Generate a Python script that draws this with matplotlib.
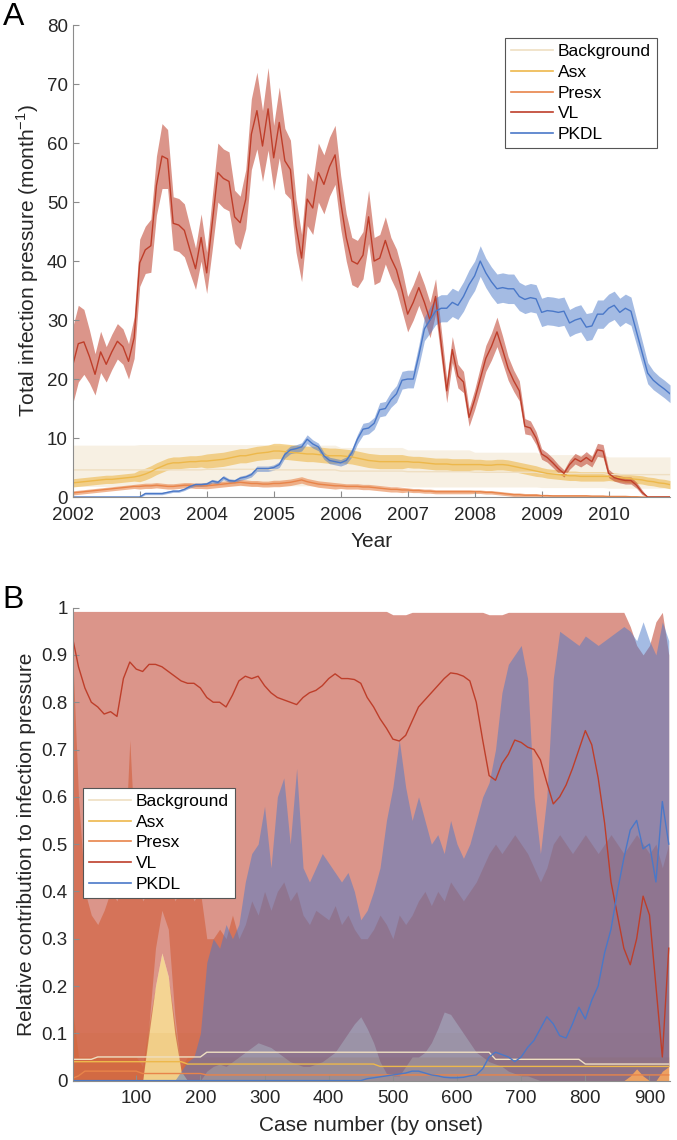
import numpy as np
import matplotlib
matplotlib.use("Agg")
import matplotlib.pyplot as plt

plt.rcParams['font.family'] = ['Liberation Sans', 'DejaVu Sans']

names = ['Background', 'Asx', 'Presx', 'VL', 'PKDL']
colors = {'Background': '#efdfc2', 'Asx': '#edb84b', 'Presx': '#e8844a',
          'VL': '#be3e2a', 'PKDL': '#4a78c8'}

# ---------------- panel A: monthly, Jan 2002 - Dec 2010 ----------------
years = [2002, 2003, 2004, 2005, 2006, 2007, 2008, 2009, 2010]

vl_a = [
    22.3, 26.0, 26.3, 23.8, 20.8, 24.6, 22.5, 24.6, 26.4, 25.5, 23.0, 27.0,
    39.7, 41.9, 42.6, 52.8, 57.8, 57.3, 46.4, 46.1, 45.2, 41.9, 38.7, 44.0,
    38.0, 46.5, 55.0, 54.0, 53.5, 47.5, 46.5, 50.5, 61.5, 65.5, 59.5, 65.8,
    57.5, 63.5, 57.0, 55.5, 46.0, 40.5, 50.5, 49.0, 55.0, 53.0, 56.0, 58.0,
    50.0, 44.0, 40.0, 39.5, 41.0, 47.5, 40.0, 40.5, 43.5, 40.5, 38.5, 35.0,
    31.0, 33.0, 35.5, 33.0, 30.0, 34.0, 26.0, 18.0, 25.0, 20.5, 19.5, 13.5,
    16.5, 20.0, 23.5, 25.5, 28.0, 25.0, 21.8, 19.7, 18.0, 12.0, 11.7, 10.0,
    7.3, 6.7, 5.8, 4.8, 4.0, 5.5, 6.5, 6.0, 6.7, 6.0, 8.0, 7.8,
    4.0, 3.3, 3.0, 2.8, 2.8, 2.0, 0.8, 0.0, 0.0, 0.0, 0.0, 0.0]
vl_a_hw = [
    6.5, 6.5, 5.5, 4.5, 3.5, 3.5, 3.0, 3.0, 3.0, 3.0, 3.0, 3.5,
    4.0, 4.0, 4.5, 5.0, 5.5, 5.0, 4.5, 4.5, 4.5, 4.0, 3.5, 4.0,
    3.5, 4.5, 5.0, 5.0, 5.0, 4.5, 4.5, 5.0, 6.0, 6.5, 6.0, 7.0,
    5.5, 6.0, 5.5, 5.0, 4.5, 4.0, 4.5, 4.5, 5.0, 5.0, 5.0, 5.0,
    4.5, 4.0, 4.0, 4.0, 4.0, 4.5, 4.0, 4.0, 4.0, 3.5, 3.5, 3.5,
    3.0, 3.0, 3.0, 3.0, 3.0, 3.0, 2.5, 2.0, 2.2, 2.0, 1.8, 1.5,
    1.7, 2.0, 2.2, 2.3, 2.5, 2.3, 2.0, 1.8, 1.7, 1.3, 1.2, 1.1,
    0.9, 0.8, 0.8, 0.7, 0.6, 0.8, 0.9, 0.9, 1.0, 0.9, 1.1, 1.1,
    0.7, 0.6, 0.6, 0.6, 0.6, 0.5, 0.4, 0.0, 0.0, 0.0, 0.0, 0.0]
pkdl_a = [
    0, 0, 0, 0, 0, 0, 0, 0, 0, 0, 0, 0,
    0.0, 0.6, 0.6, 0.6, 0.6, 0.8, 1.0, 1.0, 1.3, 1.8, 2.1, 2.1,
    2.2, 2.7, 2.5, 3.3, 2.8, 2.7, 3.2, 3.4, 3.8, 4.8, 4.8, 4.8,
    5.0, 5.5, 7.2, 8.0, 8.2, 8.5, 9.8, 9.0, 8.5, 7.0, 6.2, 6.0,
    5.8, 6.2, 7.5, 9.8, 11.5, 11.7, 12.5, 14.8, 15.0, 16.5, 17.5, 19.8,
    20.0, 20.0, 24.0, 28.5, 30.0, 31.5, 32.0, 32.0, 33.0, 32.5, 34.0, 36.0,
    37.5, 40.0, 38.0, 36.5, 35.3, 35.5, 35.3, 35.3, 34.0, 33.5, 33.8, 33.6,
    31.3, 31.6, 31.5, 31.3, 31.5, 29.5, 30.0, 30.3, 28.8, 29.0, 31.0, 31.0,
    32.0, 32.5, 31.3, 32.0, 31.5, 28.0, 24.5, 21.0, 19.8, 19.0, 18.3, 17.5]
pkdl_a_hw = [
    0, 0, 0, 0, 0, 0, 0, 0, 0, 0, 0, 0,
    0.1, 0.2, 0.2, 0.2, 0.2, 0.2, 0.2, 0.2, 0.2, 0.25, 0.3, 0.3,
    0.3, 0.3, 0.3, 0.35, 0.3, 0.3, 0.35, 0.35, 0.4, 0.45, 0.45, 0.45,
    0.45, 0.5, 0.6, 0.65, 0.65, 0.7, 0.75, 0.7, 0.65, 0.6, 0.55, 0.55,
    0.55, 0.6, 0.7, 0.8, 1.0, 1.0, 1.0, 1.2, 1.2, 1.3, 1.4, 1.5,
    1.5, 1.5, 1.8, 2.0, 2.2, 2.3, 2.3, 2.3, 2.4, 2.4, 2.5, 2.5,
    2.5, 2.6, 2.5, 2.5, 2.5, 2.5, 2.5, 2.5, 2.4, 2.4, 2.4, 2.4,
    2.4, 2.4, 2.4, 2.4, 2.4, 2.3, 2.3, 2.3, 2.3, 2.3, 2.4, 2.4,
    2.4, 2.4, 2.4, 2.4, 2.4, 2.2, 2.0, 1.8, 1.6, 1.5, 1.5, 1.5]
asx_a = [
    2.4, 2.5, 2.6, 2.7, 2.8, 2.9, 3.0, 3.0, 3.1, 3.2, 3.3, 3.4,
    3.6, 3.9, 4.3, 4.8, 5.2, 5.6, 5.8, 5.8, 5.9, 6.0, 6.0, 6.1,
    6.1, 6.2, 6.3, 6.4, 6.6, 6.8, 7.0, 7.0, 7.2, 7.4, 7.5, 7.6,
    7.8, 7.8, 7.7, 7.6, 7.5, 7.4, 7.3, 7.3, 7.2, 7.1, 7.0, 7.0,
    7.0, 6.9, 6.8, 6.6, 6.4, 6.2, 6.1, 6.0, 6.0, 6.0, 6.0, 6.0,
    6.0, 5.9, 5.9, 5.8, 5.7, 5.6, 5.6, 5.6, 5.5, 5.5, 5.5, 5.5,
    5.5, 5.5, 5.4, 5.4, 5.5, 5.5, 5.4, 5.2, 5.0, 4.8, 4.6, 4.4,
    4.2, 4.0, 3.9, 3.8, 3.7, 3.6, 3.6, 3.5, 3.5, 3.5, 3.5, 3.5,
    3.5, 3.4, 3.3, 3.2, 3.1, 3.0, 2.9, 2.7, 2.6, 2.4, 2.3, 2.1]
asx_a_hw = [0.7, 1.0, 1.2, 1.3, 1.2, 1.0, 0.9, 0.8, 0.7]      # per year
presx_a = [
    0.7, 0.8, 0.9, 1.0, 1.1, 1.2, 1.3, 1.4, 1.5, 1.6, 1.7, 1.8,
    1.8, 1.9, 1.9, 2.0, 1.9, 1.8, 1.8, 1.9, 2.0, 2.0, 1.9, 1.9,
    1.9, 2.0, 2.1, 2.2, 2.3, 2.4, 2.5, 2.4, 2.3, 2.3, 2.2, 2.2,
    2.3, 2.3, 2.4, 2.5, 2.7, 2.9, 2.6, 2.4, 2.2, 2.1, 2.0, 1.9,
    1.9, 1.8, 1.8, 1.8, 1.7, 1.7, 1.6, 1.5, 1.4, 1.3, 1.3, 1.2,
    1.2, 1.1, 1.1, 1.0, 1.0, 0.9, 0.9, 0.9, 0.9, 0.9, 0.9, 0.9,
    0.9, 0.9, 0.8, 0.8, 0.7, 0.6, 0.5, 0.4, 0.4, 0.3, 0.3, 0.3,
    0.25, 0.25, 0.2, 0.2, 0.2, 0.2, 0.2, 0.2, 0.2, 0.15, 0.15, 0.15,
    0.1, 0.1, 0.1, 0.1, 0.05, 0.05, 0, 0, 0, 0, 0, 0]
presx_a_hw = [0.35, 0.45, 0.5, 0.55, 0.45, 0.35, 0.3, 0.15, 0.05]  # per year
bg_a = [4.6, 4.6, 4.7, 4.6, 4.4, 4.3, 4.2, 4.0, 3.8]               # per year
bg_a_lo = [1.8, 1.8, 1.9, 1.9, 1.8, 1.7, 1.7, 1.6, 1.5]
bg_a_hi = [8.8, 8.9, 8.9, 8.8, 8.4, 8.0, 7.6, 7.2, 6.8]

# ---------------- panel B: by case number ----------------
cases = [1] + list(range(10, 931, 10))

vl_b = [0.935, 0.875, 0.83, 0.80, 0.79, 0.775, 0.78, 0.77, 0.85, 0.885,
        0.87, 0.865, 0.88, 0.88, 0.875, 0.865, 0.855, 0.845, 0.84, 0.84,
        0.83, 0.81, 0.80, 0.80, 0.79, 0.815, 0.845, 0.855, 0.85, 0.855,
        0.835, 0.82, 0.81, 0.805, 0.80, 0.795, 0.81, 0.82, 0.825, 0.835,
        0.85, 0.86, 0.85, 0.85, 0.848, 0.84, 0.81, 0.79, 0.765, 0.745,
        0.722, 0.718, 0.73, 0.76, 0.79, 0.805, 0.82, 0.835, 0.85, 0.862,
        0.86, 0.855, 0.845, 0.80, 0.72, 0.645, 0.635, 0.67, 0.69, 0.72,
        0.715, 0.705, 0.70, 0.678, 0.63, 0.585, 0.60, 0.625, 0.66, 0.70,
        0.74, 0.71, 0.64, 0.545, 0.42, 0.35, 0.28, 0.245, 0.30, 0.39,
        0.35, 0.20, 0.05, 0.28]
pkdl_b = [0] * 46 + [
        0.004, 0.006, 0.008, 0.01, 0.012, 0.014, 0.016, 0.02, 0.02, 0.016,
        0.012, 0.01, 0.007, 0.006, 0.006, 0.007, 0.01, 0.012, 0.025, 0.05,
        0.06, 0.055, 0.05, 0.04, 0.05, 0.07, 0.085, 0.11, 0.135, 0.12,
        0.095, 0.09, 0.12, 0.155, 0.13, 0.17, 0.2, 0.27, 0.32, 0.4,
        0.47, 0.53, 0.55, 0.49, 0.5, 0.42, 0.59, 0.5]
presx_b = [0.005, 0.01] + [0.02] * 9 + [0.015] * 10 + [0.012] * 73
asx_b = [0.04] * 11 + [0.04] * 7 + [0.035] * 30 + [0.03] * 46
bg_b = [0.045] * 4 + [0.05] * 17 + [0.06] * 45 + [0.045] * 14 + [0.035] * 14

vl_b_lo = [0] * 12 + [0.1, 0.2, 0.27, 0.22, 0.1, 0.02, 0, 0, 0] + [
        0.02, 0.03, 0.035, 0.03, 0.04, 0.05, 0.06, 0.07, 0.08, 0.075,
        0.07, 0.06, 0.05, 0.04, 0.035, 0.03, 0.03, 0.035, 0.04, 0.05,
        0.06, 0.08, 0.1, 0.12, 0.135, 0.11, 0.08, 0.04, 0.015, 0.01,
        0.01, 0.03, 0.05, 0.05, 0.06, 0.08, 0.11, 0.145, 0.14, 0.12,
        0.1, 0.08, 0.06, 0.05, 0.04, 0.035, 0.03, 0.02, 0.015, 0.01,
        0.01, 0.005] + [0] * 14 + [0.01, 0.025, 0.01, 0, 0, 0.02, 0.03]
vl_b_hi = [0.992] * 50 + [0.985] * 3 + [0.99] * 12 + [0.985] * 3 + \
          [0.99] * 19 + [0.96, 0.92, 0.90, 0.92, 0.97, 0.99, 0.90]
presx_b_lo = [0] * 12 + [0.12, 0.28, 0.36, 0.32, 0.14, 0.02] + [0] * 76
presx_b_hi = [0.9, 0.6, 0.4, 0.35, 0.33, 0.36, 0.4, 0.38, 0.42, 0.72,
        0.45, 0.38, 0.4, 0.45, 0.5, 0.45, 0.38, 0.4, 0.42, 0.38,
        0.4, 0.3, 0.3, 0.32, 0.3, 0.35, 0.3, 0.33, 0.38, 0.35,
        0.4, 0.36, 0.4, 0.42, 0.38, 0.4, 0.35, 0.33, 0.36, 0.35,
        0.34, 0.37, 0.33, 0.35, 0.32, 0.3, 0.3, 0.32, 0.35, 0.33,
        0.3, 0.35, 0.33, 0.35, 0.38, 0.4, 0.37, 0.4, 0.38, 0.42,
        0.4, 0.38, 0.4, 0.42, 0.45, 0.48, 0.5, 0.48, 0.5, 0.52,
        0.5, 0.48, 0.45, 0.42, 0.45, 0.5, 0.52, 0.5, 0.48, 0.5,
        0.52, 0.5, 0.48, 0.5, 0.52, 0.5, 0.48, 0.5, 0.52, 0.5,
        0.48, 0.5, 0.45, 0.5]
pkdl_b_lo = [0] * 87 + [0.01, 0.025, 0.01, 0, 0, 0.02, 0.03]
pkdl_b_hi = [0] * 17 + [
        0.02, 0.04, 0.05, 0.1, 0.25, 0.3, 0.28, 0.33, 0.3, 0.33,
        0.42, 0.48, 0.5, 0.58, 0.45, 0.6, 0.64, 0.5, 0.66, 0.45,
        0.42, 0.45, 0.48, 0.46, 0.44, 0.42, 0.44, 0.4, 0.34, 0.36,
        0.4, 0.45, 0.55, 0.62, 0.72, 0.62, 0.55, 0.6, 0.55, 0.5,
        0.52, 0.48, 0.55, 0.5, 0.47, 0.5, 0.55, 0.6, 0.63, 0.7,
        0.82, 0.88, 0.9, 0.92, 0.85, 0.6, 0.48, 0.6, 0.85, 0.95,
        0.94, 0.93, 0.92, 0.94, 0.93, 0.92, 0.93, 0.94, 0.95, 0.96,
        0.95, 0.93, 0.97, 0.93, 0.9, 0.97, 0.93]
asx_b_hi = [0.15] + [0.05] * 10 + [0.03, 0.12, 0.2, 0.27, 0.22, 0.12, 0.03] + [0.05] * 76
bg_b_hi = [0.1] * 94


def style_axes(ax):
    for side in ['top', 'right']:
        ax.spines[side].set_visible(False)
    for side in ['left', 'bottom']:
        ax.spines[side].set_color('#8c8c8c')
        ax.spines[side].set_linewidth(0.8)
    ax.tick_params(direction='in', length=4, width=0.8, color='#8c8c8c',
                   labelcolor='#262626', labelsize=13.5)
    ax.tick_params(axis='x', pad=7)


def legend(ax, **kw):
    handles = [plt.Line2D([], [], color=colors[n], lw=1.2) for n in names]
    leg = ax.legend(handles, names, fontsize=12.5, handlelength=2.4,
                    labelspacing=0.32, borderpad=0.35, handletextpad=0.3,
                    borderaxespad=0, fancybox=False, framealpha=1, **kw)
    leg.get_frame().set_edgecolor('#555555')
    leg.get_frame().set_linewidth(0.8)


fig = plt.figure(figsize=(6.77, 11.4), dpi=100)

# ---- A ----
axA = fig.add_axes([0.1074, 0.564, 0.8823, 0.414])
t = 2002 + np.arange(108) / 12.0
rep = lambda v: np.repeat(np.array(v, float), 12)
bands_a = {
    'Background': (rep(bg_a), rep(bg_a_lo), rep(bg_a_hi)),
    'Asx': (np.array(asx_a), np.array(asx_a) - rep(asx_a_hw), np.array(asx_a) + rep(asx_a_hw)),
    'Presx': (np.array(presx_a), np.clip(np.array(presx_a) - rep(presx_a_hw), 0, None),
              np.array(presx_a) + rep(presx_a_hw)),
    'VL': (np.array(vl_a), np.clip(np.array(vl_a) - np.array(vl_a_hw), 0, None),
           np.array(vl_a) + np.array(vl_a_hw)),
    'PKDL': (np.array(pkdl_a), np.array(pkdl_a) - np.array(pkdl_a_hw),
             np.array(pkdl_a) + np.array(pkdl_a_hw)),
}
alphas = {'Background': 0.45, 'Asx': 0.6, 'Presx': 0.6, 'VL': 0.55, 'PKDL': 0.5}
for n in names:
    mid, lo, hi = bands_a[n]
    axA.fill_between(t, lo, hi, color=colors[n], alpha=alphas[n], lw=0)
    axA.plot(t, mid, color=colors[n], lw=1.0)
axA.set_xlim(2002, 2002 + 107 / 12.0)
axA.set_ylim(0, 80)
axA.set_xticks(years)
axA.set_yticks(range(0, 81, 10))
axA.set_xlabel('Year', fontsize=15, color='#262626', labelpad=6)
axA.set_ylabel('Total infection pressure (month$^{\\mathregular{-1}}$)',
               fontsize=15, color='#262626', labelpad=4)
style_axes(axA)
legend(axA, loc='upper right', bbox_to_anchor=(0.978, 0.9725))

# ---- B ----
axB = fig.add_axes([0.1074, 0.0521, 0.8823, 0.4149])
zeros = [0] * 94
bands_b = {
    'Background': (bg_b, zeros, bg_b_hi),
    'Asx': (asx_b, zeros, asx_b_hi),
    'Presx': (presx_b, presx_b_lo, presx_b_hi),
    'VL': (vl_b, vl_b_lo, vl_b_hi),
    'PKDL': (pkdl_b, pkdl_b_lo, pkdl_b_hi),
}
for n in names:
    mid, lo, hi = bands_b[n]
    axB.fill_between(cases, lo, hi, color=colors[n], alpha=alphas[n], lw=0)
    axB.plot(cases, mid, color=colors[n], lw=1.0)
axB.set_xlim(1, 932)
axB.set_ylim(0, 1)
axB.set_xticks(range(100, 901, 100))
axB.set_yticks(np.arange(0, 1.01, 0.1))
axB.set_yticklabels(['0', '0.1', '0.2', '0.3', '0.4', '0.5', '0.6', '0.7', '0.8', '0.9', '1'])
axB.set_xlabel('Case number (by onset)', fontsize=15, color='#262626', labelpad=6)
axB.set_ylabel('Relative contribution to infection pressure', fontsize=15,
               color='#262626', labelpad=4)
style_axes(axB)
legend(axB, loc='upper left', bbox_to_anchor=(0.017, 0.619))

fig.text(0.004, 0.998, 'A', fontsize=23, va='top', ha='left')
fig.text(0.003, 0.487, 'B', fontsize=23, va='top', ha='left')

fig.savefig('out.png', dpi=100)
